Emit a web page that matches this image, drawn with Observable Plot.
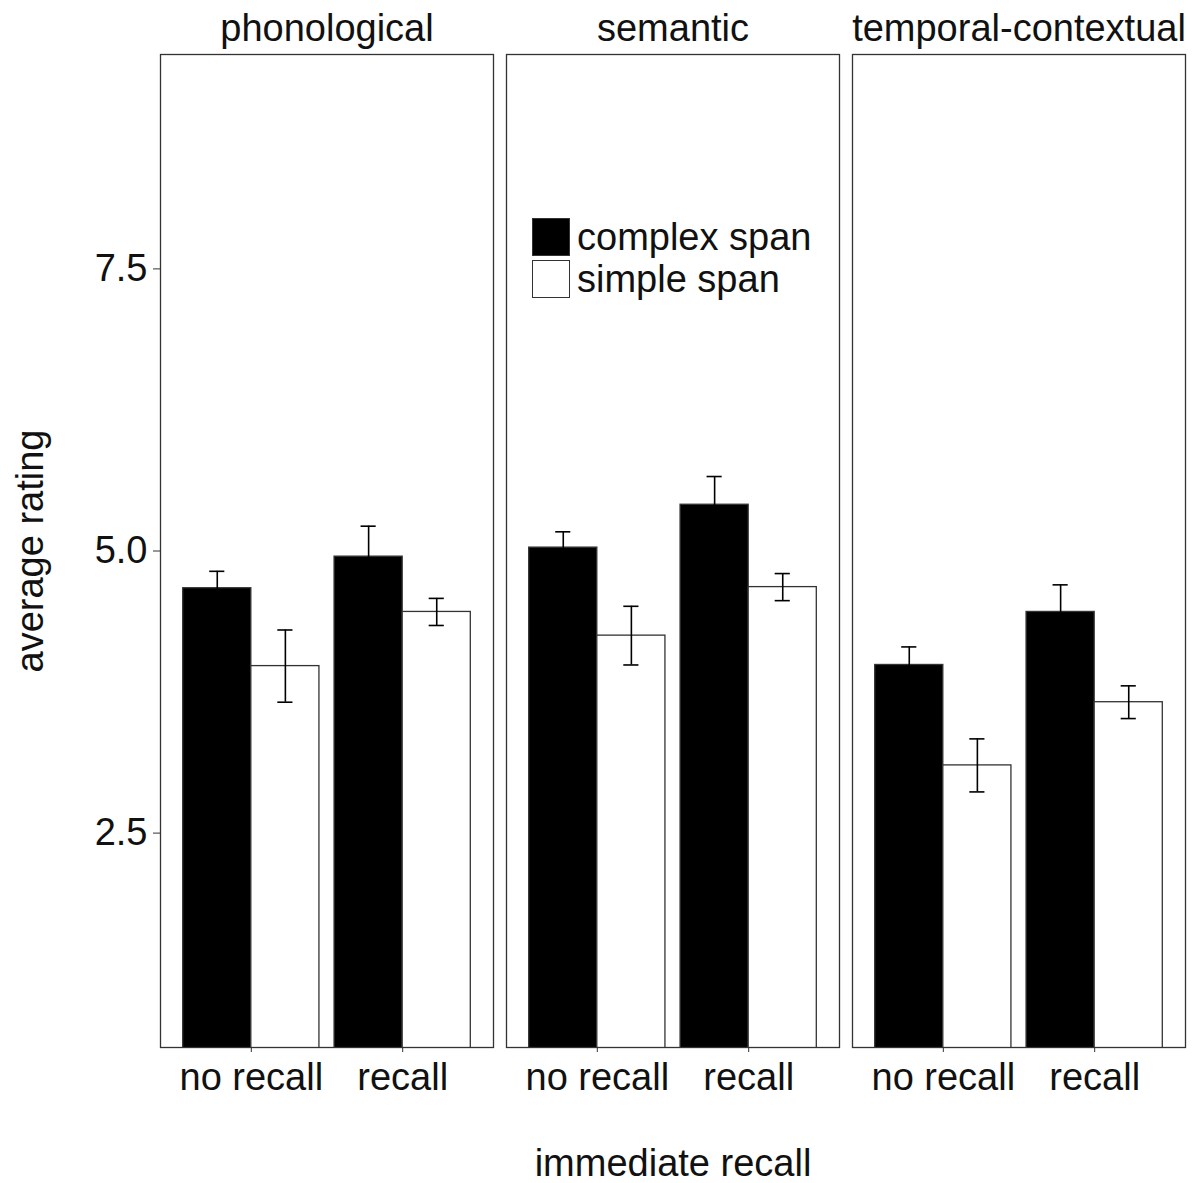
<!DOCTYPE html>
<html>
<head>
<meta charset="utf-8">
<script src="https://cdn.jsdelivr.net/npm/d3@7"></script>
<script src="https://cdn.jsdelivr.net/npm/@observablehq/plot@0.6"></script>
<style>
  html, body { margin: 0; padding: 0; background: #fff; }
  #wrap { position: relative; width: 1196px; height: 1183px; font-family: "Liberation Sans", Arial, sans-serif; }
  .leg { position: absolute; display: flex; align-items: center; font-size: 38px; color: #111; height: 38px; }
  .sw { width: 36px; height: 36px; border: 1.3px solid #333; margin-right: 7px; box-sizing: content-box; }
</style>
</head>
<body>
<div id="wrap"></div>
<script>
const panels = ["phonological", "semantic", "temporal-contextual"];
const conditions = ["no recall", "recall"];
const spans = ["complex span", "simple span"];
const spanFill = ["#000000", "#ffffff"];
// [panel][condition]
const complexMean = [[4.67, 4.95], [5.03, 5.41], [3.99, 4.46]];
const complexErr  = [[0.15, 0.27], [0.14, 0.25], [0.16, 0.24]];
const simpleMean  = [[3.98, 4.46], [4.25, 4.68], [3.10, 3.66]];
const simpleErr   = [[0.32, 0.12], [0.26, 0.12], [0.235, 0.145]];
const yTicks = [2.5, 5.0, 7.5];

const rows = [];
panels.forEach((p, pi) => conditions.forEach((c, ci) => spans.forEach((s, si) => {
  const mean = si === 0 ? complexMean[pi][ci] : simpleMean[pi][ci];
  const err = si === 0 ? complexErr[pi][ci] : simpleErr[pi][ci];
  rows.push({panel: p, cond: c, span: s, mean, lo: mean - err, hi: mean + err, pos: ci + 1, side: si === 0 ? -1 : 1});
})));

const dodge = 0.45;
const center = d => d.pos + d.side * dodge / 2;

const chart = Plot.plot({
  width: 1196,
  height: 1183,
  marginTop: 54,
  marginBottom: 136,
  marginLeft: 160,
  marginRight: 10,
  style: {fontFamily: "Liberation Sans, Arial, sans-serif", fontSize: "38px", color: "#111", background: "#fff"},
  fx: {domain: panels, padding: 0.0375},
  x: {domain: [0.4, 2.6]},
  y: {domain: [0.6, 9.4]},
  color: {domain: spans, range: spanFill},
  marks: [
    Plot.rectY(rows, {
      fx: "panel",
      x1: d => d.side < 0 ? d.pos - dodge : d.pos,
      x2: d => d.side < 0 ? d.pos : d.pos + dodge,
      y1: 0, y2: "mean",
      fill: "span", stroke: "#333", strokeWidth: 1.3, clip: true
    }),
    Plot.ruleX(rows, {fx: "panel", x: center, y1: "lo", y2: "hi", stroke: "#000", strokeWidth: 1.6}),
    Plot.ruleY(rows, {fx: "panel", y: "hi", x1: d => center(d) - 0.05, x2: d => center(d) + 0.05, stroke: "#000", strokeWidth: 1.6}),
    Plot.ruleY(rows, {fx: "panel", y: "lo", x1: d => center(d) - 0.05, x2: d => center(d) + 0.05, stroke: "#000", strokeWidth: 1.6}),
    Plot.frame({stroke: "#333", strokeWidth: 1.3}),
    Plot.axisY({ticks: yTicks, tickFormat: ".1f", tickSize: 7, tickPadding: 6, stroke: "#333",
      label: "average rating", labelAnchor: "center", labelArrow: "none", labelOffset: 144}),
    Plot.axisX({ticks: [1, 2], tickFormat: d => conditions[d - 1], tickSize: 5, tickPadding: 11, stroke: "#333", label: null}),
    Plot.axisFx({anchor: "top", tickSize: 0, tickPadding: 14, label: null}),
    Plot.axisFx({anchor: "bottom", tickSize: 0, tickFormat: () => "", label: "immediate recall", labelAnchor: "center", labelArrow: "none", labelOffset: 128})
  ]
});
const wrap = document.getElementById("wrap");
wrap.appendChild(chart);

// legend (inside semantic panel)
spans.forEach((s, i) => {
  const row = document.createElement("div");
  row.className = "leg";
  row.style.left = "532px";
  row.style.top = (218 + i * 42) + "px";
  const sw = document.createElement("div");
  sw.className = "sw";
  sw.style.background = spanFill[i];
  const t = document.createElement("span");
  t.textContent = s;
  row.appendChild(sw);
  row.appendChild(t);
  wrap.appendChild(row);
});
</script>
</body>
</html>
